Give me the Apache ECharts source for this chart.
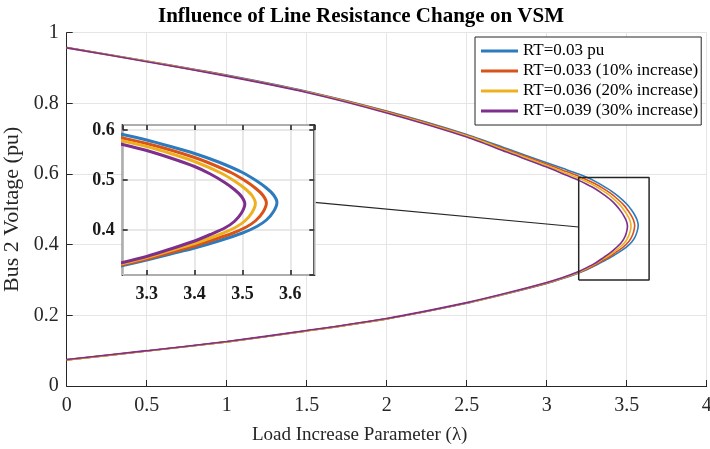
<!DOCTYPE html>
<html>
<head>
<meta charset="utf-8">
<script src="https://cdn.jsdelivr.net/npm/echarts@6/dist/echarts.min.js"></script>
<style>html,body{margin:0;padding:0;background:#fff}#c{width:710px;height:449px}</style>
</head>
<body>
<div id="c"></div>
<script>
// ---- data (λ, V pairs traced around each nose curve) ----
const seriesNames = ['RT=0.03 pu', 'RT=0.033 (10% increase)', 'RT=0.036 (20% increase)', 'RT=0.039 (30% increase)'];
const colors = ['#2B7BBE', '#D95319', '#EDB120', '#7E2F8E'];

const lambdaBlue = [0, 0.5, 1, 1.5, 2, 2.5, 2.75, 3, 3.1, 3.2, 3.25, 3.3, 3.35, 3.4, 3.45, 3.5, 3.53, 3.55, 3.565, 3.572,
  3.565, 3.55, 3.53, 3.5, 3.45, 3.4, 3.35, 3.3, 3.25, 3.2, 3.1, 3, 2.75, 2.5, 2, 1.5, 1, 0.5, 0];
const voltBlue = [0.958, 0.920, 0.880, 0.834, 0.778, 0.712, 0.672, 0.632, 0.616, 0.600, 0.591, 0.580, 0.567, 0.553, 0.536, 0.515, 0.498, 0.484, 0.470, 0.455,
  0.437, 0.420, 0.407, 0.394, 0.378, 0.364, 0.352, 0.340, 0.329, 0.320, 0.304, 0.290, 0.261, 0.234, 0.190, 0.156, 0.125, 0.099, 0.074];

const lambdaOrange = [0, 0.5, 1, 1.5, 2, 2.5, 2.75, 3, 3.1, 3.2, 3.25, 3.3, 3.35, 3.4, 3.428, 3.478, 3.508, 3.528, 3.543, 3.550,
  3.543, 3.528, 3.508, 3.478, 3.428, 3.4, 3.35, 3.3, 3.25, 3.2, 3.1, 3, 2.75, 2.5, 2, 1.5, 1, 0.5, 0];
const voltOrange = [0.958, 0.919, 0.879, 0.833, 0.777, 0.710, 0.669, 0.628, 0.611, 0.594, 0.584, 0.573, 0.560, 0.545, 0.535, 0.514, 0.497, 0.483, 0.469, 0.454,
  0.436, 0.419, 0.406, 0.393, 0.377, 0.368, 0.355, 0.342, 0.331, 0.321, 0.305, 0.291, 0.262, 0.235, 0.190, 0.156, 0.125, 0.099, 0.074];

const lambdaYellow = [0, 0.5, 1, 1.5, 2, 2.5, 2.75, 3, 3.1, 3.2, 3.25, 3.3, 3.35, 3.4, 3.455, 3.485, 3.505, 3.520, 3.527,
  3.520, 3.505, 3.485, 3.455, 3.4, 3.35, 3.3, 3.25, 3.2, 3.1, 3, 2.75, 2.5, 2, 1.5, 1, 0.5, 0];
const voltYellow = [0.957, 0.919, 0.878, 0.832, 0.775, 0.708, 0.666, 0.624, 0.606, 0.588, 0.578, 0.567, 0.553, 0.537, 0.514, 0.497, 0.483, 0.469, 0.453,
  0.435, 0.418, 0.405, 0.392, 0.373, 0.359, 0.345, 0.333, 0.322, 0.306, 0.292, 0.262, 0.235, 0.190, 0.156, 0.125, 0.099, 0.074];

const lambdaPurple = [0, 0.5, 1, 1.5, 2, 2.5, 2.75, 3, 3.1, 3.2, 3.25, 3.3, 3.35, 3.4, 3.433, 3.463, 3.483, 3.498, 3.505,
  3.498, 3.483, 3.463, 3.433, 3.4, 3.35, 3.3, 3.25, 3.2, 3.1, 3, 2.75, 2.5, 2, 1.5, 1, 0.5, 0];
const voltPurple = [0.957, 0.918, 0.877, 0.831, 0.773, 0.705, 0.662, 0.620, 0.601, 0.582, 0.571, 0.559, 0.544, 0.527, 0.512, 0.495, 0.481, 0.467, 0.452,
  0.434, 0.417, 0.404, 0.391, 0.378, 0.362, 0.347, 0.335, 0.324, 0.307, 0.293, 0.263, 0.236, 0.191, 0.157, 0.126, 0.100, 0.075];

// zoom box on main axes and the connector line (data coords)
const boxLambda = [3.2, 3.64, 3.64, 3.2, 3.2];
const boxVolt = [0.30, 0.30, 0.59, 0.59, 0.30];
const linkLambda = [1.548, 3.2];
const linkVolt = [0.520, 0.450];

// axis settings
const mainX = {min: 0, max: 4, interval: 0.5};
const mainY = {min: 0, max: 1, interval: 0.2};
const insetX = {min: 3.25, max: 3.65};
const insetY = {min: 0.31, max: 0.61};

const curves = [[lambdaBlue, voltBlue], [lambdaOrange, voltOrange], [lambdaYellow, voltYellow], [lambdaPurple, voltPurple]];
const pairs = (xs, ys) => xs.map((x, i) => [x, ys[i]]);

const FONT = '"Liberation Serif", "Times New Roman", serif';
const TXT = '#262626';

const series = [];
curves.forEach((c, i) => {
  series.push({
    name: seriesNames[i], type: 'line', xAxisIndex: 0, yAxisIndex: 0,
    data: pairs(c[0], c[1]), symbol: 'none', smooth: 0.25, z: 2 + i * 0.01,
    lineStyle: {color: colors[i], width: 1.6}, itemStyle: {color: colors[i]}
  });
});
series.push({type: 'line', xAxisIndex: 0, yAxisIndex: 0, data: pairs(boxLambda, boxVolt), symbol: 'none',
  lineStyle: {color: '#262626', width: 1.5}, z: 3, silent: true});
series.push({type: 'line', xAxisIndex: 0, yAxisIndex: 0, data: pairs(linkLambda, linkVolt), symbol: 'none',
  lineStyle: {color: '#262626', width: 1.2}, z: 3, silent: true});
curves.forEach((c, i) => {
  series.push({
    name: seriesNames[i], type: 'line', xAxisIndex: 1, yAxisIndex: 1,
    data: pairs(c[0], c[1]), symbol: 'none', smooth: 0.25, z: 6 + i * 0.01, clip: true,
    lineStyle: {color: colors[i], width: 3}, itemStyle: {color: colors[i]}
  });
});

const chart = echarts.init(document.getElementById('c'), null, {renderer: 'canvas'});
chart.setOption({
  animation: false,
  backgroundColor: '#fff',
  title: {
    text: 'Influence of Line Resistance Change on VSM', left: 153, top: 1,
    textStyle: {fontFamily: FONT, fontWeight: 'bold', fontSize: 21, color: '#000'}
  },
  legend: {
    data: seriesNames.map((n, i) => ({name: n, icon: 'rect', itemStyle: {color: colors[i]}})),
    orient: 'vertical', left: 475, top: 37,
    itemWidth: 37, itemHeight: 3, itemGap: 0, padding: [4, 3, 4, 6],
    backgroundColor: '#fff', borderColor: '#262626', borderWidth: 1, borderRadius: 0,
    textStyle: {fontFamily: FONT, fontSize: 17, color: '#000', lineHeight: 20},
    z: 10
  },
  grid: [
    {left: 66.7, top: 32.7, width: 640, height: 353.3, containLabel: false, outerBoundsMode: 'none'},
    {left: 122.7, top: 125, width: 191.6, height: 150, show: true, backgroundColor: '#fff',
      borderColor: '#1a1a1a', borderWidth: 2, z: 4, containLabel: false, outerBoundsMode: 'none'}
  ],
  xAxis: [
    {gridIndex: 0, type: 'value', min: mainX.min, max: mainX.max, interval: mainX.interval,
      name: 'Load Increase Parameter (λ)', nameLocation: 'middle', nameGap: 40,
      nameTextStyle: {fontFamily: FONT, fontSize: 19, color: TXT, padding: [0, 54, 0, 0]},
      axisLine: {show: true, onZero: false, lineStyle: {color: TXT, width: 1}},
      axisTick: {show: true, inside: true, length: 6, lineStyle: {color: TXT}},
      axisLabel: {fontFamily: FONT, fontSize: 20, color: TXT, margin: 10},
      splitLine: {show: true, lineStyle: {color: '#e5e5e5', width: 1}}},
    {gridIndex: 1, type: 'value', min: insetX.min, max: insetX.max, splitNumber: 4, z: 5,
      axisLine: {show: false},
      axisTick: {show: true, inside: true, length: 5, lineStyle: {color: '#1a1a1a', width: 1.5}},
      axisLabel: {fontFamily: FONT, fontSize: 18, fontWeight: 'bold', color: '#1a1a1a', margin: 10,
        showMinLabel: false, showMaxLabel: false},
      splitLine: {show: true, lineStyle: {color: '#e0e0e0', width: 1.5}}},
    {gridIndex: 1, type: 'value', position: 'top', min: insetX.min, max: insetX.max, splitNumber: 4, z: 5,
      axisLine: {show: false},
      axisTick: {show: true, inside: true, length: 5, lineStyle: {color: '#1a1a1a', width: 1.5}},
      axisLabel: {show: false}, splitLine: {show: false}}
  ],
  yAxis: [
    {gridIndex: 0, type: 'value', min: mainY.min, max: mainY.max, interval: mainY.interval,
      name: 'Bus 2 Voltage (pu)', nameLocation: 'middle', nameGap: 42,
      nameTextStyle: {fontFamily: FONT, fontSize: 22, color: TXT},
      axisLine: {show: true, onZero: false, lineStyle: {color: TXT, width: 1}},
      axisTick: {show: true, inside: true, length: 6, lineStyle: {color: TXT}},
      axisLabel: {fontFamily: FONT, fontSize: 20, color: TXT, margin: 8},
      splitLine: {show: true, lineStyle: {color: '#e5e5e5', width: 1}}},
    {gridIndex: 1, type: 'value', min: insetY.min, max: insetY.max, splitNumber: 3, z: 5,
      axisLine: {show: false},
      axisTick: {show: true, inside: true, length: 5, lineStyle: {color: '#1a1a1a', width: 1.5}},
      axisLabel: {fontFamily: FONT, fontSize: 18, fontWeight: 'bold', color: '#1a1a1a', margin: 8,
        showMinLabel: false, showMaxLabel: false},
      splitLine: {show: true, lineStyle: {color: '#e0e0e0', width: 1.5}}},
    {gridIndex: 1, type: 'value', position: 'right', min: insetY.min, max: insetY.max, splitNumber: 3, z: 5,
      axisLine: {show: false},
      axisTick: {show: true, inside: true, length: 5, lineStyle: {color: '#1a1a1a', width: 1.5}},
      axisLabel: {show: false}, splitLine: {show: false}}
  ],
  series: series
});
</script>
</body>
</html>
